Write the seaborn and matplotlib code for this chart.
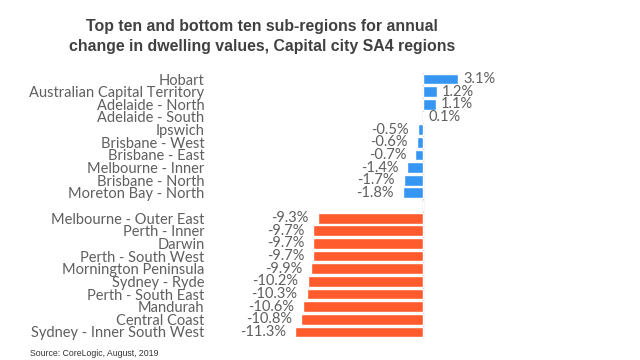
import matplotlib
matplotlib.use("Agg")
import matplotlib.pyplot as plt
import seaborn as sns
import pandas as pd

top_regions = ["Hobart", "Australian Capital Territory", "Adelaide - North", "Adelaide - South",
               "Ipswich", "Brisbane - West", "Brisbane - East", "Melbourne - Inner",
               "Brisbane - North", "Moreton Bay - North"]
top_values = [3.1, 1.2, 1.1, 0.1, -0.5, -0.6, -0.7, -1.4, -1.7, -1.8]
bottom_regions = ["Melbourne - Outer East", "Perth - Inner", "Darwin", "Perth - South West",
                  "Mornington Peninsula", "Sydney - Ryde", "Perth - South East", "Mandurah",
                  "Central Coast", "Sydney - Inner South West"]
bottom_values = [-9.3, -9.7, -9.7, -9.7, -9.9, -10.2, -10.3, -10.6, -10.8, -11.3]

title_lines = ["Top ten and bottom ten sub-regions for annual",
               "change in dwelling values, Capital city SA4 regions"]
source = "Source: CoreLogic, August, 2019"

BLUE = "#3796F2"
ORANGE = "#FF5B2C"
TEXT = "#5F5F5F"

labels = top_regions + [" "] + bottom_regions
values = top_values + [0.0] + bottom_values
groups = ["top"] * len(top_regions) + ["gap"] + ["bottom"] * len(bottom_regions)
df = pd.DataFrame({"region": labels, "value": values, "group": groups})

sns.set_theme(style="white")
plt.rcParams["font.family"] = ["Lato", "DejaVu Sans"]

fig = plt.figure(figsize=(6.4, 3.6), dpi=100)
ax = fig.add_axes([285/640, 1 - 338.3/360, 195/640, (338.3 - 72.7)/360])

sns.barplot(data=df, x="value", y="region", hue="group",
            palette={"top": BLUE, "gap": "white", "bottom": ORANGE},
            dodge=False, width=0.85, saturation=1, legend=False, ax=ax, orient="h")

ax.set_xlim(-12.2, 5.0)
ax.axvline(0, color="#D0D0D0", lw=1, zorder=0)
for s in ax.spines.values():
    s.set_visible(False)
ax.set_xticks([])
ax.set_xlabel("")
ax.set_ylabel("")
ax.tick_params(axis="y", length=0, pad=58, labelsize=10.5, labelcolor=TEXT)

for i, (lab, v, g) in enumerate(zip(labels, values, groups)):
    if g == "gap":
        continue
    txt = f"{v:.1f}%"
    if v >= 0:
        ax.text(v + 0.4, i, txt, ha="left", va="center", fontsize=10.5, color=TEXT)
    else:
        ax.text(v - 0.8, i, txt, ha="right", va="center", fontsize=10.5, color=TEXT)

for line, y in zip(title_lines, [26, 47]):
    fig.text(262/640, 1 - y/360, line, ha="center", va="center", fontsize=11.4,
             fontweight="bold", color="#404040", family=["Liberation Sans", "DejaVu Sans"])
fig.text(30/640, 1 - 354/360, source, ha="left", va="center", fontsize=6.3,
         color="#333333", family=["Liberation Sans", "DejaVu Sans"])

fig.savefig("out.png", dpi=100, facecolor="white")
